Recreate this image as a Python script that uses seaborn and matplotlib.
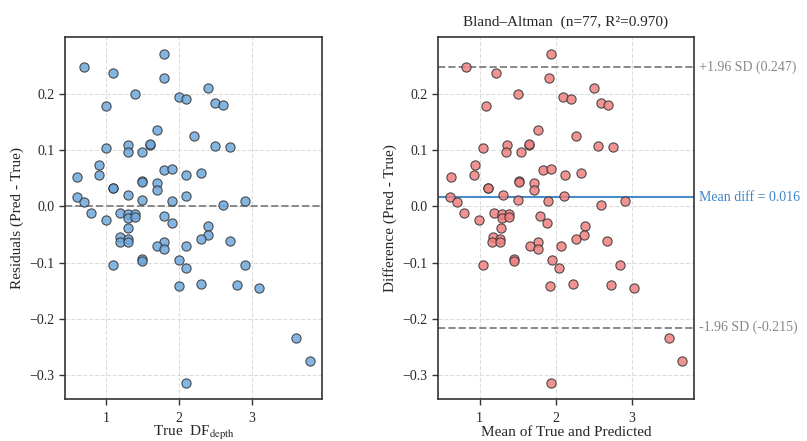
import numpy as np
import pandas as pd
import matplotlib
matplotlib.use("Agg")
import matplotlib.pyplot as plt
import seaborn as sns

# Ground-truth DF_depth values and model residuals (Pred - True)
true_vals = [
    0.7, 1.1, 1.8, 1.8, 1.4, 1.0, 2.4, 2.0, 2.1, 2.5,
    2.6, 1.7, 2.2, 1.0, 1.3, 1.3, 1.5, 1.6, 1.6, 2.5,
    2.7, 0.9, 0.6, 0.9, 1.8, 1.9, 2.1, 2.3, 1.1, 1.1,
    1.5, 1.5, 1.7, 1.7, 1.3, 2.1, 0.6, 0.7, 1.5, 1.9,
    2.9, 2.6,
    0.8, 1.2, 1.3, 1.4, 1.3, 1.4, 1.0, 1.8, 1.9, 1.3,
    2.4, 2.4, 2.3, 1.2, 1.3, 1.2, 1.3, 2.7, 1.8, 1.7,
    1.8, 2.1, 1.5, 1.5, 2.0, 1.1, 2.1, 2.9, 2.0, 2.3,
    2.8, 3.1, 3.6, 3.8, 2.1,
]
residuals = [
    0.248, 0.237, 0.270, 0.228, 0.199, 0.178, 0.210, 0.194, 0.191, 0.184,
    0.180, 0.135, 0.126, 0.104, 0.109, 0.096, 0.097, 0.110, 0.111, 0.108,
    0.106, 0.074, 0.053, 0.055, 0.064, 0.067, 0.055, 0.059, 0.032, 0.033,
    0.045, 0.043, 0.041, 0.030, 0.021, 0.018, 0.016, 0.008, 0.011, 0.009,
    0.009, 0.002,
    -0.011, -0.011, -0.014, -0.014, -0.020, -0.018, -0.024, -0.017, -0.029, -0.038,
    -0.035, -0.050, -0.057, -0.055, -0.057, -0.063, -0.063, -0.061, -0.064, -0.070,
    -0.076, -0.070, -0.094, -0.096, -0.095, -0.104, -0.109, -0.104, -0.142, -0.138,
    -0.140, -0.145, -0.233, -0.275, -0.313,
]

# Summary statistics shown in the annotations
N_SAMPLES = 77
R2 = 0.970
MEAN_DIFF = 0.016
LOA_UPPER = 0.247
LOA_LOWER = -0.215

true_arr = np.array(true_vals)
pred_arr = true_arr + np.array(residuals)
df = pd.DataFrame({
    "true": true_arr,
    "resid": pred_arr - true_arr,
    "mean": (true_arr + pred_arr) / 2.0,
    "diff": pred_arr - true_arr,
})

sns.set_style("whitegrid")
plt.rcParams["font.family"] = ["Liberation Serif", "DejaVu Serif"]
plt.rcParams["mathtext.fontset"] = "stix"
plt.rcParams["axes.unicode_minus"] = True

fig = plt.figure(figsize=(8.07, 4.41), dpi=100)
ax1 = fig.add_axes([65 / 807, 42 / 441, 257 / 807, 362 / 441])
ax2 = fig.add_axes([438 / 807, 42 / 441, 256 / 807, 362 / 441])

blue = "#6fa8dc"
red = "#f08080"

sns.scatterplot(data=df, x="true", y="resid", ax=ax1, s=44, color=blue,
                alpha=0.85, edgecolor="#333333", linewidth=0.8, zorder=3)
ax1.axhline(0, color="#888888", linestyle="--", linewidth=1.4, zorder=2)
ax1.set_xlabel(r"True  DF$_{\mathrm{depth}}$", fontsize=11, labelpad=0)
ax1.set_ylabel("Residuals (Pred - True)", fontsize=11)

sns.scatterplot(data=df, x="mean", y="diff", ax=ax2, s=44, color=red,
                alpha=0.85, edgecolor="#333333", linewidth=0.8, zorder=3)
ax2.axhline(MEAN_DIFF, color="#4a8cc8", linestyle="-", linewidth=1.5, zorder=2)
ax2.axhline(LOA_UPPER, color="#888888", linestyle="--", linewidth=1.4, zorder=2)
ax2.axhline(LOA_LOWER, color="#888888", linestyle="--", linewidth=1.4, zorder=2)
trans = ax2.get_yaxis_transform()
ax2.text(1.02, LOA_UPPER, f"+1.96 SD ({LOA_UPPER:.3f})", transform=trans,
         va="center", ha="left", fontsize=10, color="#888888")
ax2.text(1.02, MEAN_DIFF, f"Mean diff = {MEAN_DIFF:.3f}", transform=trans,
         va="center", ha="left", fontsize=10, color="#3d85c6")
ax2.text(1.02, LOA_LOWER, f"-1.96 SD ({LOA_LOWER:.3f})", transform=trans,
         va="center", ha="left", fontsize=10, color="#888888")
ax2.set_xlabel("Mean of True and Predicted", fontsize=11, labelpad=1)
ax2.set_ylabel("Difference (Pred - True)", fontsize=11)
ax2.set_title(f"Bland\u2013Altman  (n={N_SAMPLES}, R\u00b2={R2:.3f})", fontsize=11, pad=8)

for ax in (ax1, ax2):
    ax.set_ylim(-0.342, 0.301)
    ax.set_xticks([1, 2, 3])
    ax.set_yticks([-0.3, -0.2, -0.1, 0.0, 0.1, 0.2])
    ax.grid(True, linestyle="--", color="#dddddd", linewidth=0.8)
    ax.tick_params(axis="both", which="major", length=4, width=1,
                   color="#333333", labelsize=10, bottom=True, left=True)
    ax.tick_params(axis="x", pad=5)
    for sp in ax.spines.values():
        sp.set_color("#333333")
        sp.set_linewidth(1.2)
    ax.set_axisbelow(True)

fig.savefig("out.png", dpi=100)
